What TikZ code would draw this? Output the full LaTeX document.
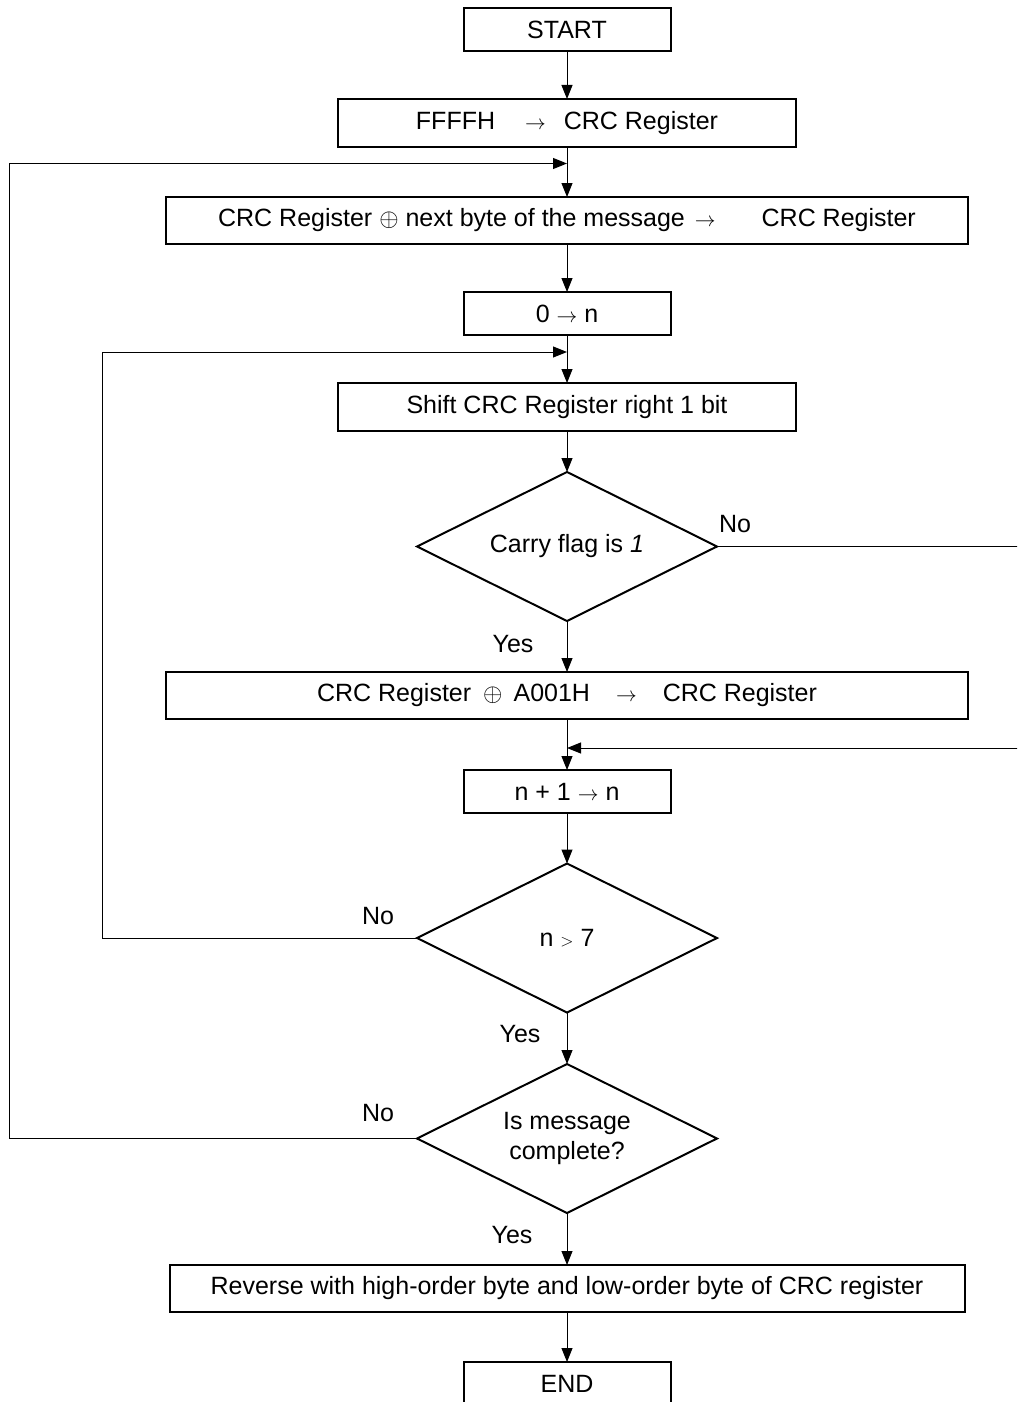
\documentclass[tikz,border=0pt]{standalone}
\usepackage{fontspec}
\setmainfont{Liberation Sans}
\usetikzlibrary{shapes.geometric,arrows.meta}
\newcommand{\myarr}{{\fontsize{22}{22}\selectfont$\rightarrow$}}
\newcommand{\myxor}{{\fontsize{25}{25}\selectfont$\oplus$}}
\begin{document}
\begin{tikzpicture}[x=1pt,y=-1pt,
  font=\fontsize{25}{30}\selectfont,
  proc/.style={draw, line width=2pt, rectangle, inner sep=0pt, outer sep=0pt, minimum height=47pt},
  dec/.style={draw, line width=2pt, diamond, aspect=2, minimum width=300pt, minimum height=149pt, inner sep=0pt, outer sep=0pt, align=center},
  arr/.style={line width=1pt, -{Triangle[length=14pt,width=11pt]}},
  lbl/.style={inner sep=0pt}]
\useasboundingbox (0,0) rectangle (1017,1402);
\clip (0,0) rectangle (1017,1402);

\node[proc, minimum width=207pt, minimum height=43pt] (start) at (567,29.5) {START};
\node[proc, minimum width=458pt, minimum height=48pt] (init) at (567,123) {FFFFH\hspace{30pt}\myarr\hspace{18pt}CRC Register};
\node[proc, minimum width=802pt] (xor) at (567,220.5) {CRC Register \myxor{} next byte of the message\hspace{10pt}\myarr\hspace{46pt}CRC Register};
\node[proc, minimum width=207pt, minimum height=43pt] (zero) at (567,313.5) {0 \myarr{} n};
\node[proc, minimum width=458pt, minimum height=48pt] (shift) at (567,407) {Shift CRC Register right 1 bit};
\node[dec] (carry) at (567,546.5) {Carry flag is \textit{1}};
\node[proc, minimum width=802pt] (axor) at (567,695.5) {CRC Register\hspace{12pt}\myxor\hspace{11pt}A001H\hspace{26pt}\myarr\hspace{26pt}CRC Register};
\node[proc, minimum width=207pt, minimum height=43pt] (inc) at (567,791.5) {n + 1 \myarr{} n};
\node[dec] (ngt) at (567,938) {n {\fontsize{17}{17}\selectfont$>$} 7};
\node[dec] (msg) at (567,1138.5) {Is message\\complete?};
\node[proc, minimum width=795pt] (rev) at (567,1288.5) {Reverse with high-order byte and low-order byte of CRC register};
\node[proc, minimum width=207pt, minimum height=43pt] (end) at (567,1383.5) {END};

\node[lbl] (no1) at (735,524) {No};
\node[lbl] (yes1) at (513,644) {Yes};
\node[lbl] (no2) at (378,916) {No};
\node[lbl] (yes2) at (520,1034) {Yes};
\node[lbl] (no3) at (378,1113) {No};
\node[lbl] (yes3) at (512,1235) {Yes};

\coordinate (j1) at (567,163.5);
\coordinate (j2) at (567,352);
\coordinate (j3) at (567,748);

\draw[arr] (start) -- (init);
\draw[arr] (init) -- (xor);
\draw[arr] (xor) -- (zero);
\draw[arr] (zero) -- (shift);
\draw[arr] (shift) -- (carry);
\draw[arr] (carry) -- (axor);
\draw[arr] (axor) -- (inc);
\draw[arr] (inc) -- (ngt);
\draw[arr] (ngt) -- (msg);
\draw[arr] (msg) -- (rev);
\draw[arr] (rev) -- (end);

\draw[arr] (msg.west) -- (9,1138.5) |- (j1);
\draw[arr] (ngt.west) -- (102,938) |- (j2);
\draw[arr] (carry.east) -- (1040,546.5) |- (j3);
\end{tikzpicture}
\end{document}
